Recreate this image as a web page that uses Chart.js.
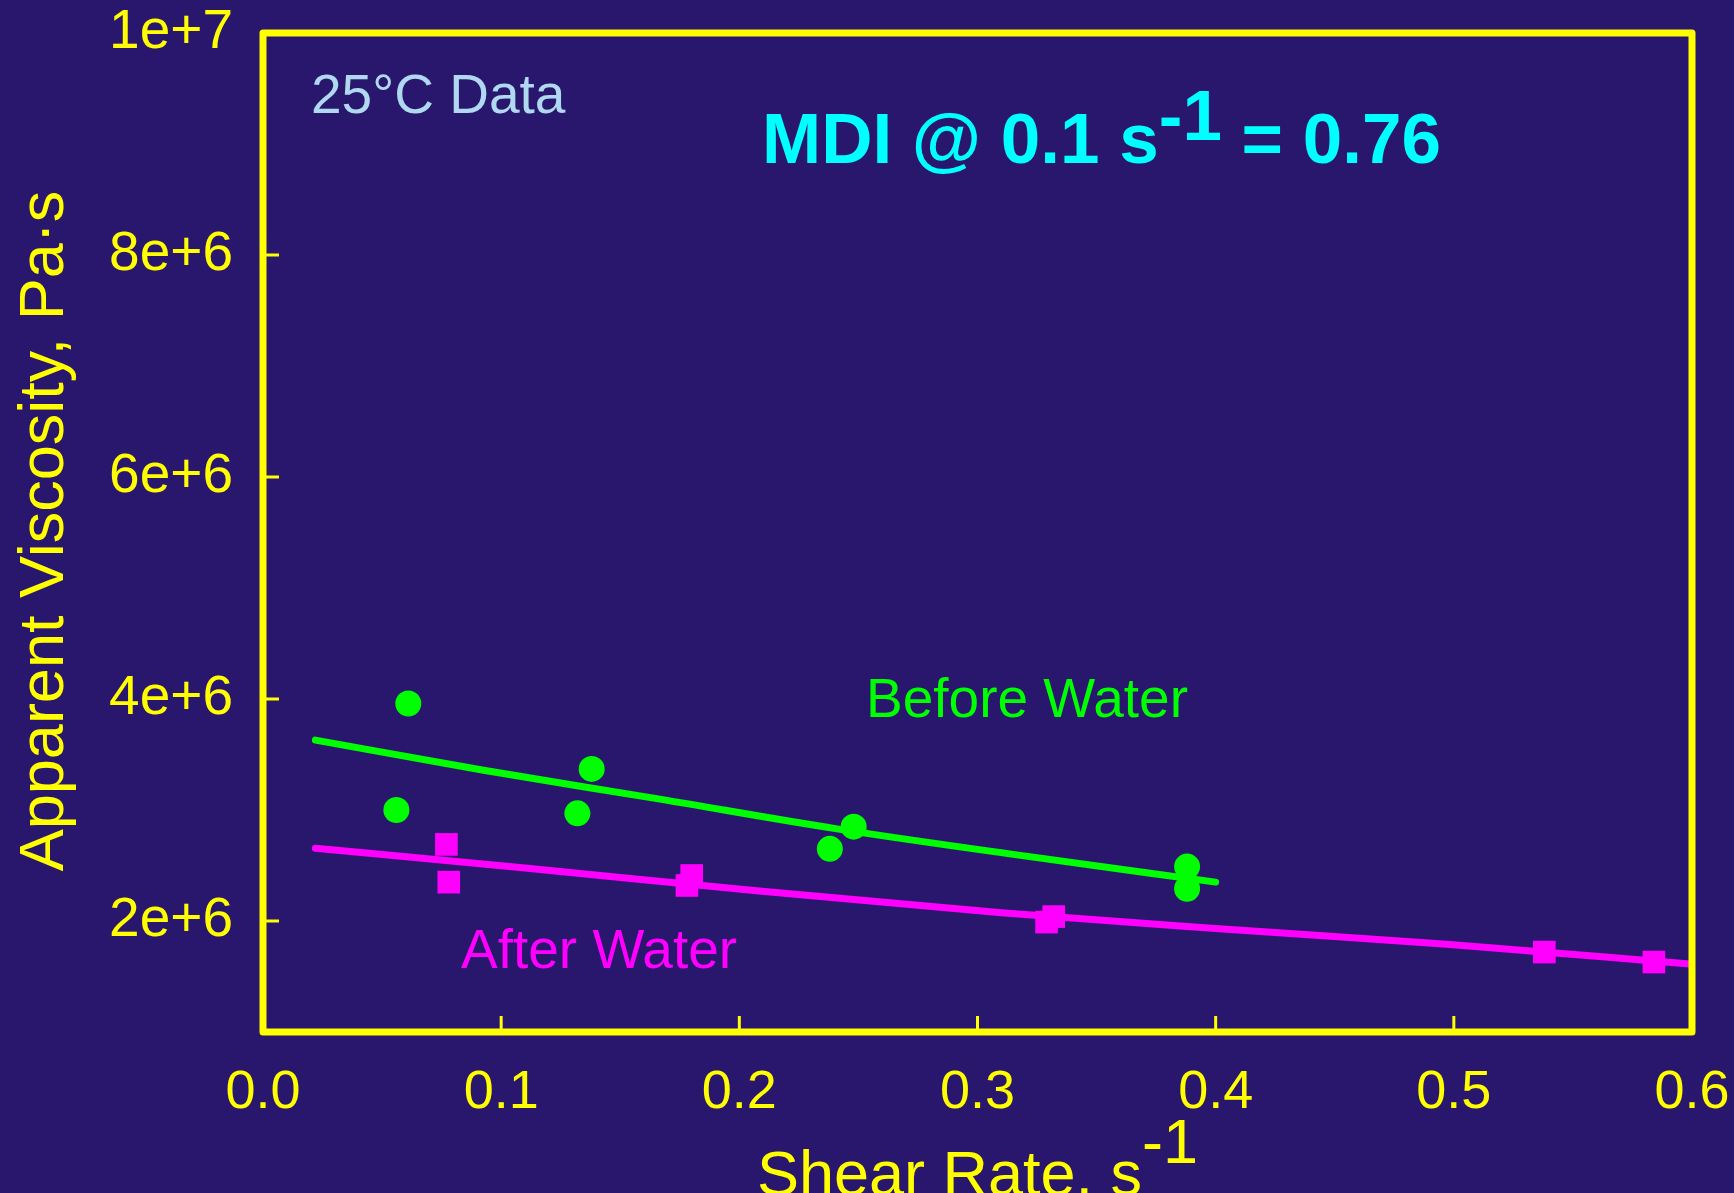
<!DOCTYPE html>
<html>
<head>
<meta charset="utf-8">
<title>Apparent Viscosity vs Shear Rate</title>
<script src="https://cdn.jsdelivr.net/npm/chart.js@4.4.0/dist/chart.umd.min.js"></script>
<style>
    html, body { margin: 0; padding: 0; background: #29176d; }
    #wrap { width: 1734px; height: 1193px; position: relative; }
</style>
</head>
<body>
<div id="wrap"><canvas id="chart"></canvas></div>
<script>
// Measured points (25°C data)
const beforeX = [0.061, 0.056, 0.138, 0.132, 0.248, 0.238, 0.388, 0.388];
const beforeY = [3.96e6, 3.00e6, 3.37e6, 2.97e6, 2.85e6, 2.65e6, 2.49e6, 2.29e6];
const afterX = [0.077, 0.078, 0.180, 0.178, 0.332, 0.329, 0.538, 0.584];
const afterY = [2.69e6, 2.35e6, 2.41e6, 2.32e6, 2.04e6, 1.99e6, 1.72e6, 1.63e6];

// Fitted curves
const beforeFitX = [0.022, 0.092, 0.166, 0.241, 0.315, 0.400];
const beforeFitY = [3.63e6, 3.36e6, 3.10e6, 2.83e6, 2.60e6, 2.35e6];
const afterFitX = [0.022, 0.110, 0.204, 0.310, 0.403, 0.497, 0.599];
const afterFitY = [2.655e6, 2.477e6, 2.28e6, 2.075e6, 1.928e6, 1.79e6, 1.613e6];

// Axis ticks
const xTicks = [0, 0.1, 0.2, 0.3, 0.4, 0.5, 0.6];
const yTicks = [2e6, 4e6, 6e6, 8e6, 1e7];

const BG = '#29176d';
const YELLOW = '#ffff00';
const FONT = "'Liberation Sans', Arial, sans-serif";

function toPoints(xs, ys) {
    return xs.map((x, i) => ({x: x, y: ys[i]}));
}

// draws a run of text pieces, each with its own vertical shift
function drawRuns(ctx, runs, x, y) {
    runs.forEach(r => {
        ctx.fillText(r[0], x, y + r[1]);
        x += ctx.measureText(r[0]).width;
    });
}

function runsWidth(ctx, runs) {
    return runs.reduce((w, r) => w + ctx.measureText(r[0]).width, 0);
}

// keep the label overhang out of the layout, padding is set by hand
function noOverhang(scale) {
    scale.paddingTop = 0;
    scale.paddingBottom = 0;
    scale.paddingLeft = 0;
    scale.paddingRight = 0;
}

const backgroundPlugin = {
    id: 'background',
    beforeDraw(chart) {
        const ctx = chart.ctx;
        ctx.save();
        ctx.fillStyle = BG;
        ctx.fillRect(0, 0, chart.width, chart.height);
        ctx.restore();
    }
};

const framePlugin = {
    id: 'frame',
    afterDraw(chart) {
        const ctx = chart.ctx;
        const a = chart.chartArea;
        const xs = chart.scales.x;
        const ys = chart.scales.y;
        ctx.save();

        // inward tick marks
        ctx.strokeStyle = YELLOW;
        ctx.lineWidth = 3;
        ctx.beginPath();
        xTicks.forEach(v => {
            const px = xs.getPixelForValue(v);
            ctx.moveTo(px, a.bottom);
            ctx.lineTo(px, a.bottom - 16);
        });
        yTicks.forEach(v => {
            const py = ys.getPixelForValue(v);
            ctx.moveTo(a.left, py);
            ctx.lineTo(a.left + 16, py);
        });
        ctx.stroke();

        // box around plot
        ctx.lineWidth = 7;
        ctx.lineJoin = 'round';
        ctx.strokeRect(a.left, a.top, a.right - a.left, a.bottom - a.top);

        // axis titles
        ctx.fillStyle = YELLOW;
        ctx.font = '63px ' + FONT;
        ctx.textBaseline = 'alphabetic';
        ctx.textAlign = 'left';
        const xTitle = [['Shear Rate, s', 0], ['-1', -32]];
        const xw = runsWidth(ctx, xTitle);
        drawRuns(ctx, xTitle, (a.left + a.right) / 2 - xw / 2, 1195);

        ctx.save();
        ctx.translate(63, 531);
        ctx.rotate(-Math.PI / 2);
        ctx.textAlign = 'center';
        ctx.fillText('Apparent Viscosity, Pa\u00b7s', 0, 0);
        ctx.restore();

        // annotations
        ctx.textAlign = 'left';
        ctx.font = '55px ' + FONT;
        ctx.fillStyle = '#b0d8f0';
        ctx.fillText('25\u00b0C Data', 311, 113);

        ctx.fillStyle = '#00ff00';
        ctx.fillText('Before Water', 866, 717);

        ctx.fillStyle = '#ff00ff';
        ctx.fillText('After Water', 461, 968);

        ctx.font = 'bold 71px ' + FONT;
        ctx.fillStyle = '#00ffff';
        drawRuns(ctx, [['MDI @ 0.1 s', 0], ['-1', -23], [' = 0.76', 0]], 762, 163);

        ctx.restore();
    }
};

const ctx = document.getElementById('chart').getContext('2d');
const chart = new Chart(ctx, {
    type: 'scatter',
    data: {
        datasets: [
            {
                label: 'Before Water',
                data: toPoints(beforeX, beforeY),
                backgroundColor: '#00ff00',
                borderWidth: 0,
                pointStyle: 'circle',
                pointRadius: 13
            },
            {
                label: 'After Water',
                data: toPoints(afterX, afterY),
                backgroundColor: '#ff00ff',
                borderWidth: 0,
                pointStyle: 'rect',
                pointRadius: 16
            },
            {
                label: 'Before Water fit',
                data: toPoints(beforeFitX, beforeFitY),
                showLine: true,
                borderColor: '#00ff00',
                borderWidth: 7,
                borderCapStyle: 'round',
                pointRadius: 0,
                cubicInterpolationMode: 'monotone'
            },
            {
                label: 'After Water fit',
                data: toPoints(afterFitX, afterFitY),
                showLine: true,
                borderColor: '#ff00ff',
                borderWidth: 7,
                borderCapStyle: 'round',
                pointRadius: 0,
                cubicInterpolationMode: 'monotone'
            }
        ]
    },
    options: {
        responsive: true,
        maintainAspectRatio: false,
        animation: false,
        layout: {
            padding: {top: 33, right: 42, left: 0, bottom: 0}
        },
        plugins: {
            legend: {display: false},
            tooltip: {enabled: false}
        },
        scales: {
            x: {
                type: 'linear',
                min: 0,
                max: 0.6,
                grid: {display: false, drawTicks: false},
                border: {display: false},
                afterBuildTicks: scale => {
                    scale.ticks = xTicks.map(v => ({value: v}));
                },
                afterFit: scale => {
                    scale.height = 161;
                    noOverhang(scale);
                },
                ticks: {
                    color: YELLOW,
                    font: {family: FONT, size: 54},
                    padding: 29,
                    maxRotation: 0,
                    callback: v => Number(v).toFixed(1)
                }
            },
            y: {
                type: 'linear',
                min: 1e6,
                max: 1e7,
                grid: {display: false, drawTicks: false},
                border: {display: false},
                afterBuildTicks: scale => {
                    scale.ticks = yTicks.map(v => ({value: v}));
                },
                afterFit: scale => {
                    scale.width = 263;
                    noOverhang(scale);
                },
                ticks: {
                    color: YELLOW,
                    font: {family: FONT, size: 55},
                    padding: 30,
                    callback: v => Number(v).toExponential()
                }
            }
        }
    },
    plugins: [backgroundPlugin, framePlugin]
});
</script>
</body>
</html>
